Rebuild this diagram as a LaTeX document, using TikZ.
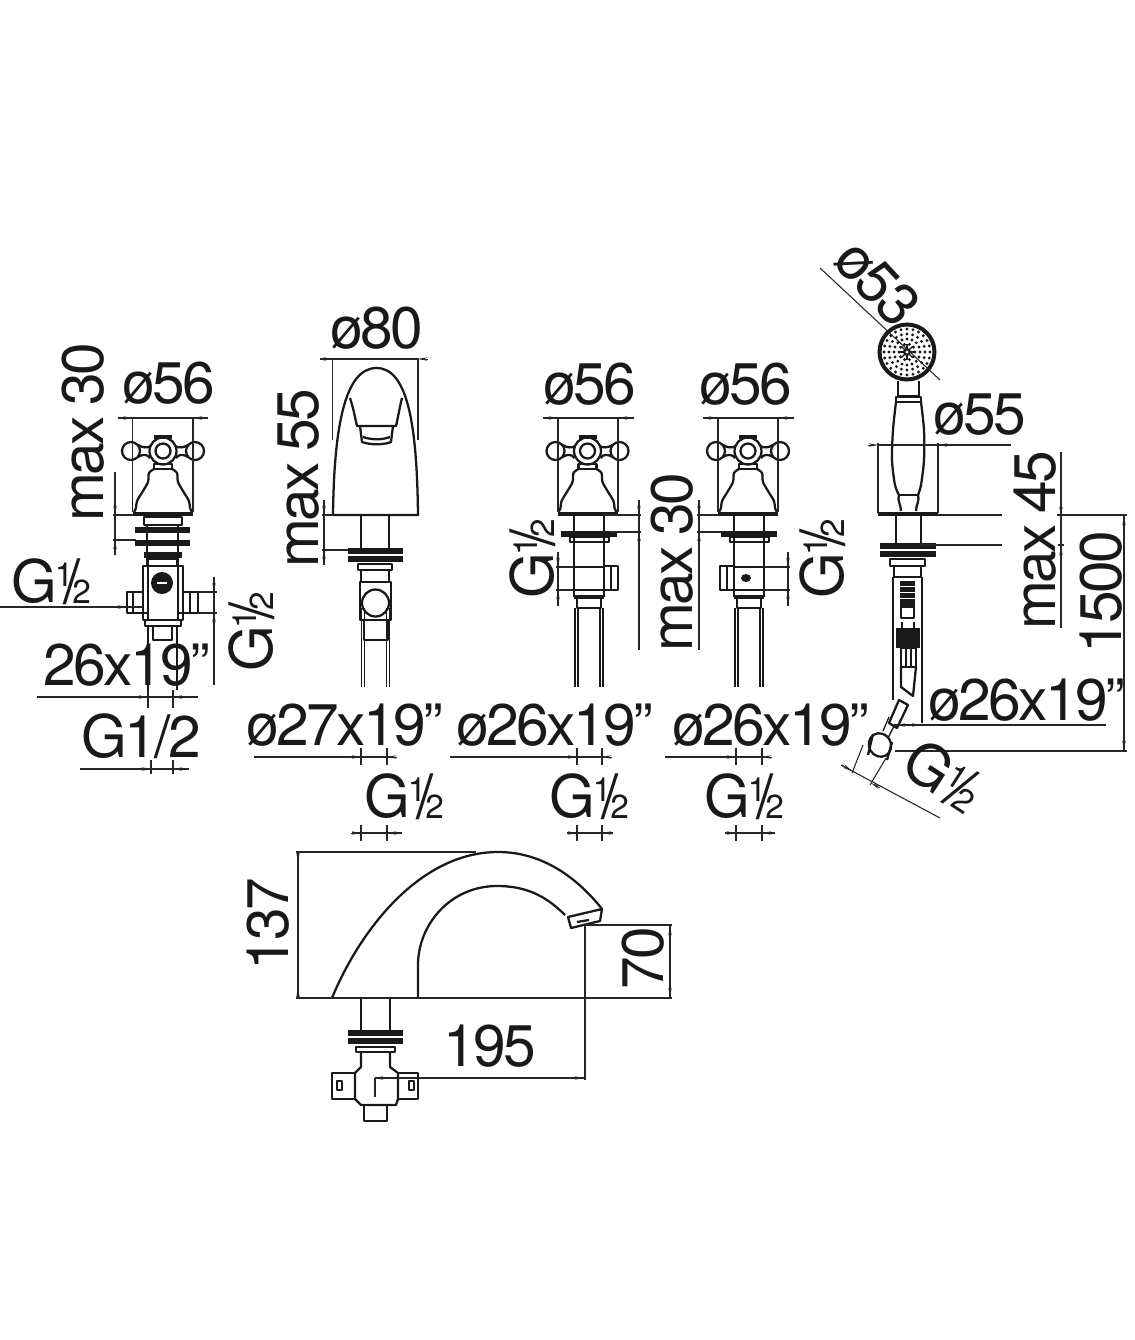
\documentclass[tikz,border=0pt]{standalone}
\usepackage{fontspec}
\setmainfont[LetterSpace=-4.5,WordSpace=0.8]{TeX Gyre Heros}
\usetikzlibrary{arrows.meta}
\newcommand\Gh{G\kern-.03em\raisebox{.27em}{\fontsize{25}{25}\selectfont 1}\kern-.17em\raisebox{-.03em}{\fontsize{46}{46}\selectfont /}\kern-.14em\raisebox{-.02em}{\fontsize{25}{25}\selectfont 2}}
\newcommand\hdim[5]{\draw[dimln] (#2,#1) -- (#3,#1); \draw[tipln] (#4-10,#1) -- (#4,#1); \draw[tipln] (#5+10,#1) -- (#5,#1);}
\newcommand\vdim[5]{\draw[dimln] (#1,#2) -- (#1,#3); \draw[tipln] (#1,#4-10) -- (#1,#4); \draw[tipln] (#1,#5+10) -- (#1,#5);}
\tikzset{
 x=.75pt,y=-.75pt,
 txt/.style={font=\fontsize{44}{44}\selectfont,anchor=base,inner sep=0pt,outer sep=0pt,text=black!90},
 part/.style={line width=1.7pt,draw=black!90,line join=round},
 thin part/.style={line width=1pt,draw=black!90},
 bar/.style={line width=4pt,draw=black!90},
 dimln/.style={line width=.8pt,draw=black!85},
 tipln/.style={line width=.6pt,draw=black!85,-{Stealth[length=7pt,width=2.6pt]}},
 crosshead/.pic={
  \draw[part] (-32,-64) circle (9) (32,-64) circle (9);
  \draw[part] (-25,-70) .. controls (-20,-67) and (-16,-67) .. (-12,-69);
  \draw[part] (-25,-58) .. controls (-20,-61) and (-16,-61) .. (-13,-57);
  \draw[part] (25,-70) .. controls (20,-67) and (16,-67) .. (12,-69);
  \draw[part] (25,-58) .. controls (20,-61) and (16,-61) .. (13,-57);
  \draw[part] (0,-64) circle (13.5);
  \draw[part] (0,-64) circle (7.5);
  \draw[line width=3pt,draw=black!90] (-9,-78) -- (9,-78);
  \draw[part] (-9,-51) rectangle (9,-46);
  \draw[part] plot[smooth] coordinates {(-9,-46) (-14,-42) (-15,-33) (-20,-24) (-26,-14) (-27,-7) (-29,-3)};
  \draw[part] plot[smooth] coordinates {(9,-46) (14,-42) (15,-33) (20,-24) (26,-14) (27,-7) (29,-3)};
  \draw[line width=2.6pt,draw=black!90] (-30,-1) -- (30,-1);
 },
 pipes/.pic={
  \draw[thin part] (-14,0) -- (-14,79) (-11,0) -- (-11,79) (11,0) -- (11,79) (14,0) -- (14,79);
 }
}
\begin{document}
\begin{tikzpicture}
\useasboundingbox (0,0) rectangle (1135,1340);
\fill[white] (0,0) rectangle (1135,1340);

%---------- left tap
\pic at (163,515) {crosshead};
\hdim{418}{118}{208}{132.5}{193}
\draw[dimln] (132.5,418) -- (132.5,512) (193,418) -- (193,512);
\draw[part] (144,517) rectangle (182,525);
\draw[bar] (135,530) -- (190,530);
\draw[bar] (135,543) -- (190,543);
\draw[thin part] (147,525) -- (147,565) (178,525) -- (178,565);
\draw[bar] (144,555) -- (182,555);
\draw[part] (148,559) rectangle (177,566);
\draw[part] (143,566) rectangle (183,620);
\draw[part] (148,566) -- (148,620) (178,566) -- (178,620);
\fill[black!90] (162,583) circle (11);
\fill[white] (157,581.5) rectangle (167,584);
\draw[part] (127,592) rectangle (143,613) (133,592) -- (133,613);
\draw[part] (183,592) rectangle (198,613) (190,592) -- (190,613);
\draw[part] (143,613) -- (148,613) (178,613) -- (183,613);
\draw[part] (145,620) rectangle (181,626);
\draw[part] (148,626) -- (148,690) (177,626) -- (177,690);
\draw[part] (153,626) -- (153,640) -- (172,640) -- (172,626);
\node[txt] (a1) at (169,403) {ø56};
\node[txt,rotate=90] (a2) at (103,432) {max 30};
\vdim{115}{472}{555}{515}{540}
\draw[dimln] (113,515) -- (133,515) (113,540) -- (136,540);
\node[txt] (a3) at (51,602) {\Gh};
\draw[dimln] (0,607) -- (142,607);
\draw[tipln] (118,607) -- (127,607);
\node[txt,rotate=90] (a4) at (272,632) {\Gh};
\vdim{214}{577}{685}{592}{613}
\draw[dimln] (198,592) -- (217,592) (198,613) -- (217,613);
\node[txt] (a5) at (127,685) {26x19"};
\hdim{697}{37}{198}{148}{173}
\draw[dimln] (148,690) -- (148,708) (173,690) -- (173,708);
\node[txt] (a6) at (141,757) {G1/2};
\hdim{769}{80}{189}{151}{173}
\draw[dimln] (151,760) -- (151,774) (173,760) -- (173,774);

%---------- front spout
\draw[part] (333,515) .. controls (334,430) and (344,368) .. (376.5,368) .. controls (409,368) and (417,430) .. (418,515) -- cycle;
\draw[part] (350,398) .. controls (354,410) and (355,418) .. (357,426) -- (396,426) .. controls (398,418) and (399,410) .. (402,398);
\draw[part] (360,426) -- (362,442) .. controls (370,445) and (384,445) .. (391,442) -- (393,426);
\draw[part] (363,437) .. controls (372,440) and (382,440) .. (390,437);
\hdim{359}{320}{419}{332.5}{418}
\draw[dimln] (332.5,359) -- (332.5,440) (418,359) -- (418,440);
\node[txt] (b1) at (377,348) {ø80};
\node[txt,rotate=90] (b2) at (318,478) {max 55};
\vdim{324}{500}{565}{515}{550}
\draw[dimln] (322,515) -- (333,515) (322,550) -- (350,550);
\draw[part] (361,516) -- (361,550) (389,516) -- (389,550);
\draw[bar] (348,551) -- (403,551);
\draw[bar] (348,559) -- (403,559);
\draw[part] (358,564) rectangle (392,570);
\draw[part] (361,570) -- (361,582) (389,570) -- (389,582);
\draw[part] (360,582) rectangle (391,620);
\draw[part] (375.5,603) circle (13.5);
\draw[part] (364,620) -- (364,640) -- (388,640) -- (388,620);
\pic at (375.5,608) {pipes};
\node[txt] (b3) at (345,745) {ø27x19"};
\hdim{757}{254}{391}{361}{387}
\draw[dimln] (361,748) -- (361,765) (387,748) -- (387,765);
\node[txt] (b4) at (404,817) {\Gh};
\hdim{833}{352}{402}{361}{387}
\draw[dimln] (361,825) -- (361,841) (387,825) -- (387,841);

%---------- third tap
\pic at (587.5,515) {crosshead};
\hdim{418}{543}{634}{558}{618}
\draw[dimln] (558,418) -- (558,512) (618,418) -- (618,512);
\draw[part] (574,516) -- (574,597) (604,516) -- (604,597);
\draw[line width=5pt,draw=black!90] (561,534) -- (617,534);
\draw[part] (570,537) rectangle (609,542);
\draw[thin part] (574,567) -- (604,567) (574,590) -- (604,590);
\draw[part] (604,566) -- (618,566) -- (618,590) -- (604,590) (611,566) -- (611,590);
\draw[line width=2.5pt,draw=black!90] (574,597) -- (604,597);
\draw[part] (577,597) -- (577,608) -- (601,608) -- (601,597);
\pic at (589,608) {pipes};
\node[txt] (c1) at (590,404) {ø56};
\node[txt,rotate=90] (c2) at (553,559) {\Gh};
\vdim{558}{552}{606}{567}{590}
\draw[dimln] (556,567) -- (574,567) (556,590) -- (574,590);
\node[txt] (c3) at (555,745) {ø26x19"};
\hdim{757}{450}{605}{577}{602}
\draw[dimln] (577,748) -- (577,765) (602,748) -- (602,765);
\node[txt] (c4) at (589,817) {\Gh};
\hdim{833}{567}{613}{577}{602}
\draw[dimln] (577,825) -- (577,841) (602,825) -- (602,841);

%---------- centre max 30
\node[txt,rotate=90] (d1) at (692,562) {max 30};
\vdim{639}{500}{650}{515}{532}
\draw[dimln] (604,515) -- (641,515) (610,532) -- (641,532);
\vdim{699}{500}{650}{515}{532}
\draw[dimln] (697,515) -- (735,515) (697,532) -- (725,532);

%---------- fourth tap
\pic at (748,515) {crosshead};
\hdim{418}{703}{794}{718}{778}
\draw[dimln] (718,418) -- (718,512) (778,418) -- (778,512);
\draw[part] (734,516) -- (734,597) (764,516) -- (764,597);
\draw[line width=5pt,draw=black!90] (721,534) -- (777,534);
\draw[part] (730,537) rectangle (769,542);
\draw[thin part] (734,567) -- (764,567) (734,590) -- (764,590);
\draw[part] (734,566) -- (720,566) -- (720,590) -- (734,590) (727,566) -- (727,590);
\fill[black!90] (746,578) ellipse (5 and 4);
\draw[line width=2.5pt,draw=black!90] (734,597) -- (764,597);
\draw[part] (737,597) -- (737,608) -- (761,608) -- (761,597);
\pic at (749,608) {pipes};
\node[txt] (e1) at (746,404) {ø56};
\node[txt,rotate=90] (e2) at (843,559) {\Gh};
\vdim{788}{552}{606}{567}{590}
\draw[dimln] (764,567) -- (790,567) (764,590) -- (790,590);
\node[txt] (e3) at (771,745) {ø26x19"};
\hdim{757}{665}{765}{736}{762}
\draw[dimln] (736,748) -- (736,765) (762,748) -- (762,765);
\node[txt] (e4) at (744,817) {\Gh};
\hdim{833}{725}{775}{736}{762}
\draw[dimln] (736,825) -- (736,841) (762,825) -- (762,841);

%---------- hand shower
\draw[line width=3pt,draw=black!90] (907,352) circle (27.5);
\foreach \r/\n in {23/24,18/20,13/16,8/10}{
 \foreach \i in {1,...,\n}{\fill[black!90] (907,352) ++({360*\i/\n}:\r) circle (1.6);}
}
\fill[black!90] (907,352) circle (4);
\foreach \a in {0,45,...,315}{\draw[line width=1pt,draw=black!90] (907,352) -- ++(\a:8);}
\fill[white] (907,352) circle (1.6);
\draw[dimln] (820,268) -- (940,380);
\node[txt,rotate=-47] (f1) at (863,296) {ø53};
\draw[part] (898,381) -- (898,396) (919,381) -- (919,396);
\draw[part] (897,396) -- (919,396);
\draw[part] (896,397) rectangle (921,402);
\draw[part] plot[smooth] coordinates {(896,402) (893,430) (892,460) (895,485) (899,495)};
\draw[part] plot[smooth] coordinates {(921,402) (924,430) (924,460) (921,485) (918,495)};
\draw[part] (899,495) -- (918,495);
\draw[part] (899,495) .. controls (897,500) and (901,505) .. (901,511);
\draw[part] (918,495) .. controls (920,500) and (916,505) .. (916,511);
\draw[line width=3.5pt,draw=black!90] (878,514) -- (938,514);
\hdim{445}{878}{1011}{878}{938}
\draw[dimln] (878,443) -- (878,513) (938,443) -- (938,513);
\node[txt] (f2) at (980,434) {ø55};
\draw[part] (896,516) -- (896,543) (921,516) -- (921,543);
\draw[bar] (880,546) -- (936,546);
\draw[bar] (880,554) -- (936,554);
\draw[part] (890,559) rectangle (925,566);
\draw[part] (894,566) rectangle (921,577);
\draw[thin part] (893,577) -- (893,700) (922,577) -- (922,723);
\fill[black!90] (900,581) rectangle (915,607);
\foreach \yy in {586,592,598}{\draw[white,line width=.5pt] (900,\yy) -- (915,\yy);}
\draw[part] (901,607) rectangle (914,618);
\fill[black!90] (896,628) rectangle (920,648);
\draw[part] (902,622) -- (902,628) (914,622) -- (914,628);
\draw[part] (901,648) rectangle (916,667);
\draw[thin part] (906,648) -- (906,667) (911,648) -- (911,667);
\draw[part] (901,667) -- (901,687) -- (913,696) -- (916,667);
\draw[part] (899,700) -- (908,705) -- (897,728) -- (889,723) -- cycle;
\draw[thin part] (889,717) -- (883,731) (895,724) -- (888,738);
\draw[part,rotate around={30:(880,745)}] (880,745) ellipse (11 and 12);
\draw[part] (873,734) -- (868,755) (892,742) -- (887,760);
\draw[dimln] (895,751) -- (1127,751);
\draw[dimln] (1124,515) -- (1124,751);
\draw[tipln] (1124,525) -- (1124,516);
\draw[tipln] (1124,741) -- (1124,750);
\draw[dimln] (938,515) -- (1002,515) (921,545) -- (1002,545);
\draw[dimln] (1057,515) -- (1127,515) (1058,545) -- (1064,545);
\draw[dimln] (1061,452) -- (1061,628);
\draw[tipln] (1061,505) -- (1061,516);
\draw[tipln] (1061,555) -- (1061,546);
\node[txt,rotate=90] (f3) at (1055,540) {max 45};
\node[txt,rotate=90] (f4) at (1121,592) {1500};
\node[txt] (f5) at (1027,720) {ø26x19"};
\draw[dimln] (895,725) -- (1106,725);
\draw[tipln] (905,725) -- (896,725);
\draw[tipln] (912,725) -- (921,725);
\draw[dimln] (841,765) -- (940,818);
\draw[dimln] (863,745) -- (852,773) (886,758) -- (870,785);
\draw[tipln] (842,765) -- (852,771);
\draw[tipln] (880,788) -- (871,783);
\node[txt,rotate=-33] (f6) at (932,793) {\Gh};

%---------- side spout
\draw[part] (332,998) .. controls (360,930) and (420,852) .. (498,852) .. controls (540,852) and (575,875) .. (602,909);
\draw[part] (565,915) .. controls (545,895) and (525,886) .. (497,886) .. controls (450,886) and (418,925) .. (418,965) -- (418,998);
\draw[part] (332,998) -- (418,998);
\draw[part] (568,917) -- (602,909) -- (600,921) -- (571,928) -- cycle;
\draw[part] (577,922) -- (589,920);
\draw[dimln] (296,852) -- (476,852);
\draw[dimln] (296,998) -- (672,998);
\vdim{298}{852}{998}{862}{988}
\draw[dimln] (585,925) -- (672,925);
\draw[dimln] (670,925) -- (670,998);
\draw[tipln] (670,935) -- (670,926);
\draw[tipln] (670,988) -- (670,997);
\draw[dimln] (585,925) -- (585,1080);
\draw[dimln] (375,1078) -- (585,1078);
\draw[tipln] (380,1078) -- (374,1078);
\draw[tipln] (575,1078) -- (584,1078);
\draw[dimln] (375,1078) -- (375,1097);
\node[txt,rotate=90] (g1) at (288,924) {137};
\node[txt,rotate=90] (g2) at (663,958) {70};
\node[txt] (g3) at (490,1066) {195};
\draw[part] (361,999) -- (361,1032) (390,999) -- (390,1032);
\draw[bar] (348,1033) -- (403,1033);
\draw[bar] (348,1041) -- (403,1041);
\draw[part] (356,1047) rectangle (395,1052);
\draw[part] (361,1052) -- (361,1067) -- (355,1073) -- (355,1099) -- (361,1105) -- (396,1105) -- (398,1099) -- (398,1073) -- (390,1067) -- (390,1052);
\draw[part] (332,1073) rectangle (355,1099);
\draw[part] (398,1073) rectangle (418,1099);
\draw[part] (337,1081) rectangle (342,1090);
\draw[part] (409,1081) rectangle (414,1090);
\draw[part] (364,1105) -- (364,1121) -- (387,1121) -- (387,1105);
\end{tikzpicture}
\end{document}
